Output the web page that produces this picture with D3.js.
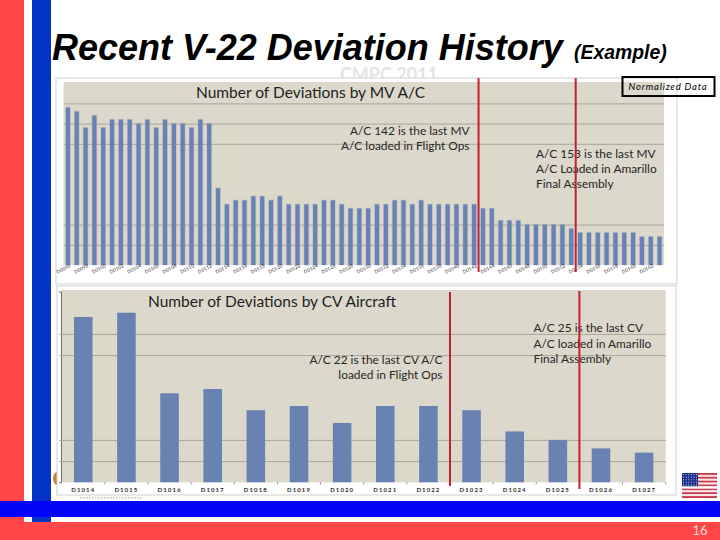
<!DOCTYPE html>
<html>
<head>
<meta charset="utf-8">
<script src="https://cdn.jsdelivr.net/npm/d3@7"></script>
<style>
  html, body { margin: 0; padding: 0; background: #fff; }
  svg { display: block; }
  text { font-family: Lato, sans-serif; }
  .slide-title { font-family: "Liberation Sans", Arial, sans-serif; font-weight: bold; font-style: italic; fill: #000; }
</style>
</head>
<body>
<div id="chart-container"></div>
<script>
  // MV aircraft numbers and normalized deviation counts
  var mvAircraft = [96, 97, 98, 99, 100, 101, 102, 103, 104, 105, 106, 107, 108, 109, 110, 111, 112,
      113, 114, 115, 116, 117, 118, 119, 120, 121, 122, 123, 124, 125, 126, 127, 128, 129, 130,
      131, 132, 133, 134, 135, 136, 137, 138, 139, 140, 141, 142, 143, 144, 145, 146, 147,
      148, 149, 150, 151, 152, 153, 154, 155, 156, 157, 158, 159, 160, 161, 162, 163];
  var mvDeviations = [39, 38, 34, 37, 34, 36, 36, 36, 35, 36, 34, 36, 35, 35, 34, 36, 35,
      19, 15, 16, 16, 17, 17, 16, 17, 15, 15, 15, 15, 16, 16, 15, 14, 14, 14,
      15, 15, 16, 16, 15, 16, 15, 15, 15, 15, 15, 15, 14, 14, 11, 11, 11,
      10, 10, 10, 10, 10, 9, 8, 8, 8, 8, 8, 8, 8, 7, 7, 7];
  var mvGridTicks = [5, 10, 30, 35, 40];
  var mvLastFlightOps = 142;
  var mvLastAmarillo = 153;

  // CV aircraft
  var cvAircraft = [14, 15, 16, 17, 18, 19, 20, 21, 22, 23, 24, 25, 26, 27];
  var cvDeviations = [39, 40, 21, 22, 17, 18, 14, 18, 18, 17, 12, 10, 8, 7];
  var cvGridTicks = [5, 10, 30, 35];
  var cvLastFlightOps = 22;
  var cvLastAmarillo = 25;

  var width = 720;
  var height = 540;
  var barColor = '#6882b2';
  var plotColor = '#dcd8cc';
  var gridColor = '#a8a598';
  var redLine = '#c0222f';

  var svg = d3.select('#chart-container')
      .append('svg')
      .attr('width', width)
      .attr('height', height);

  // Slide frame
  svg.append('rect').attr('x', 0).attr('y', 0).attr('width', 24).attr('height', height).attr('fill', '#ff4747');
  svg.append('rect').attr('x', 32).attr('y', 0).attr('width', 19).attr('height', 522).attr('fill', '#0433c8');
  svg.append('rect').attr('x', 0).attr('y', 522).attr('width', width).attr('height', 18).attr('fill', '#ff4747');

  // Ghost of the heading hidden behind the chart picture
  svg.append('text')
      .attr('x', 389).attr('y', 81)
      .attr('text-anchor', 'middle')
      .attr('font-size', 18)
      .attr('font-weight', 'bold')
      .attr('fill', '#e4e4e4')
      .text('CMPC 2011');

  svg.append('text')
      .attr('class', 'slide-title')
      .attr('x', 52).attr('y', 60)
      .attr('font-size', 36)
      .text('Recent V-22 Deviation History');

  svg.append('text')
      .attr('class', 'slide-title')
      .attr('x', 574).attr('y', 59)
      .attr('font-size', 19.4)
      .text('(Example)');

  // Orange sliver, mostly covered by the lower card
  svg.append('ellipse').attr('cx', 57).attr('cy', 478.5).attr('rx', 4).attr('ry', 6.5).attr('fill', '#c9823f');

  // Draw one panel: white card, beige plot, gridlines, bars, axis, notes, red lines
  function drawPanel(p) {
      var g = svg.append('g');

      g.append('rect')
          .attr('x', p.card[0]).attr('y', p.card[1])
          .attr('width', p.card[2] - p.card[0]).attr('height', p.card[3] - p.card[1])
          .attr('fill', '#fff')
          .attr('stroke', '#cfcfcb')
          .attr('stroke-width', 1);

      g.append('rect')
          .attr('x', p.left).attr('y', p.top)
          .attr('width', p.right - p.left).attr('height', p.bottom - p.top)
          .attr('fill', plotColor);

      var xScale = d3.scaleBand()
          .domain(p.aircraft)
          .range([p.left + p.inset, p.right])
          .paddingInner(p.padding)
          .paddingOuter(p.padding / 2);

      var yScale = d3.scaleLinear()
          .domain([0, p.yMax])
          .range([p.bottom, p.bottom - p.yMax * p.unit]);

      // gridlines
      var yAxis = g.append('g')
          .attr('transform', 'translate(' + p.left + ',0)')
          .call(d3.axisLeft(yScale).tickValues(p.ticks).tickSize(p.yTickOut).tickFormat(''));
      yAxis.select('.domain').attr('stroke', p.axisLine ? '#6d6d68' : 'none');
      yAxis.selectAll('.tick line').attr('stroke', gridColor);
      yAxis.selectAll('.tick').append('line')
          .attr('x1', 0).attr('x2', p.right - p.left)
          .attr('stroke', gridColor)
          .attr('stroke-width', 1);

      g.selectAll('rect.bar')
          .data(p.aircraft)
          .enter()
          .append('rect')
          .attr('class', 'bar')
          .attr('x', function(d) { return xScale(d); })
          .attr('y', function(d, i) { return yScale(p.values[i]); })
          .attr('width', xScale.bandwidth())
          .attr('height', function(d, i) { return p.bottom - yScale(p.values[i]); })
          .attr('fill', barColor)
          .attr('stroke', barColor)
          .attr('stroke-opacity', p.blur)
          .attr('stroke-width', 1.5);

      var xAxis = d3.axisBottom(xScale)
          .tickSize(0)
          .tickValues(p.aircraft.filter(function(d, i) { return i % p.labelEvery === 0; }))
          .tickFormat(p.label);
      var axisG = g.append('g')
          .attr('transform', 'translate(0,' + p.bottom + ')')
          .call(xAxis);
      axisG.select('.domain').attr('stroke', 'none');
      axisG.selectAll('text')
          .attr('font-family', p.labelFont)
          .attr('font-size', p.labelSize)
          .attr('font-weight', p.labelWeight)
          .attr('letter-spacing', p.labelSpacing)
          .attr('fill', '#2c2c2c');
      if (p.labelAngle) {
          axisG.selectAll('text')
              .attr('text-anchor', 'end')
              .attr('dy', 0)
              .attr('y', 3)
              .attr('x', 2)
              .attr('transform', 'rotate(' + p.labelAngle + ')');
      } else {
          axisG.selectAll('text').attr('y', 5);
          // little tick marks between the categories
          axisG.selectAll('.tick').append('line')
              .attr('x1', xScale.step() / 2).attr('x2', xScale.step() / 2)
              .attr('y1', 0).attr('y2', 2)
              .attr('stroke', '#8a8a84');
      }

      // chart heading
      g.append('text')
          .attr('x', p.titleX).attr('y', p.titleY)
          .attr('font-size', p.titleSize)
          .attr('fill', '#1e1e1e')
          .text(p.title);

      // notes
      p.notes.forEach(function(n) {
          g.append('text')
              .attr('x', n.x).attr('y', n.y)
              .attr('text-anchor', n.anchor)
              .attr('font-size', p.noteSize)
              .attr('fill', '#26261f')
              .text(n.text);
      });

      // red markers sit between the last aircraft and the next one, over the notes
      p.markers.forEach(function(m) {
          var step = xScale.step();
          var mx = xScale(m.after) + xScale.bandwidth() / 2 + step / 2;
          g.append('line')
              .attr('x1', mx).attr('x2', mx)
              .attr('y1', m.y1).attr('y2', m.y2)
              .attr('stroke', redLine)
              .attr('stroke-width', 2);
      });
  }

  drawPanel({
      card: [56, 78, 677, 284],
      left: 63.5, right: 664, top: 82, bottom: 265, inset: 0,
      aircraft: mvAircraft, values: mvDeviations, ticks: mvGridTicks,
      yMax: 45, unit: 4.04, padding: 0.52, blur: 0.22,
      yTickOut: 0, axisLine: false,
      labelEvery: 2, labelAngle: -27, labelSize: 4.6, labelWeight: 'normal', labelSpacing: 0.2,
      labelFont: '"Liberation Sans", sans-serif',
      label: function(d) { return 'D0' + (d < 100 ? '0' : '') + d; },
      title: 'Number of Deviations by MV A/C',
      titleX: 196, titleY: 98, titleSize: 15.5,
      noteSize: 11.9,
      notes: [
          { x: 469.5, y: 135, anchor: 'end', text: 'A/C 142 is the last MV' },
          { x: 469.5, y: 150, anchor: 'end', text: 'A/C loaded in Flight Ops' },
          { x: 536, y: 158, anchor: 'start', text: 'A/C 153 is the last MV' },
          { x: 536, y: 173, anchor: 'start', text: 'A/C Loaded in Amarillo' },
          { x: 536, y: 188, anchor: 'start', text: 'Final Assembly' }
      ],
      markers: [
          { after: mvLastFlightOps, y1: 78, y2: 272 },
          { after: mvLastAmarillo, y1: 78, y2: 272 }
      ]
  });

  drawPanel({
      card: [57, 286, 676, 495],
      left: 61, right: 665.7, top: 290, bottom: 482.3, inset: 0.7,
      aircraft: cvAircraft, values: cvDeviations, ticks: cvGridTicks,
      yMax: 45, unit: 4.24, padding: 0.57, blur: 0,
      yTickOut: 2, axisLine: true,
      labelEvery: 1, labelAngle: 0, labelSize: 6, labelWeight: 'bold', labelSpacing: 1.1,
      labelFont: '"DejaVu Sans", sans-serif',
      label: function(d) { return 'D10' + d; },
      title: 'Number of Deviations by CV Aircraft',
      titleX: 148, titleY: 307, titleSize: 15.5,
      noteSize: 11.9,
      notes: [
          { x: 442.5, y: 364, anchor: 'end', text: 'A/C 22 is the last CV A/C' },
          { x: 442.5, y: 379, anchor: 'end', text: 'loaded in Flight Ops' },
          { x: 533.5, y: 332, anchor: 'start', text: 'A/C 25 is the last CV' },
          { x: 533.5, y: 348, anchor: 'start', text: 'A/C loaded in Amarillo' },
          { x: 533.5, y: 363, anchor: 'start', text: 'Final Assembly' }
      ],
      markers: [
          { after: cvLastFlightOps, y1: 292, y2: 486 },
          { after: cvLastAmarillo, y1: 291, y2: 489 }
      ]
  });

  // Unreadable footnote under the lower card
  svg.append('line')
      .attr('x1', 80).attr('x2', 142).attr('y1', 498).attr('y2', 498)
      .attr('stroke', '#9a9a9a').attr('stroke-dasharray', '1.5 1.5');

  // "Normalized Data" box
  svg.append('rect')
      .attr('x', 622.5).attr('y', 77).attr('width', 92).attr('height', 19)
      .attr('fill', 'none').attr('stroke', '#000').attr('stroke-width', 2);
  svg.append('text')
      .attr('x', 668).attr('y', 90)
      .attr('text-anchor', 'middle')
      .attr('font-family', '"Liberation Sans", sans-serif')
      .attr('font-style', 'italic')
      .attr('font-size', 9.5)
      .attr('letter-spacing', 0.8)
      .attr('fill', '#000')
      .text('Normalized Data');

  // Flag in the lower right corner
  var flag = svg.append('g').attr('transform', 'translate(682,473)');
  flag.selectAll('rect.stripe')
      .data(d3.range(13))
      .enter()
      .append('rect')
      .attr('class', 'stripe')
      .attr('x', 0)
      .attr('y', function(d) { return d * 25 / 13; })
      .attr('width', 35)
      .attr('height', 25 / 13)
      .attr('fill', function(d) { return d % 2 === 0 ? '#c8394a' : '#f6e4e4'; });
  flag.append('rect').attr('x', 0).attr('y', 0).attr('width', 16).attr('height', 13.5).attr('fill', '#1c2f8c');
  flag.selectAll('circle')
      .data(d3.range(30))
      .enter()
      .append('circle')
      .attr('cx', function(d) { return 1.5 + (d % 6) * 2.6; })
      .attr('cy', function(d) { return 1.5 + Math.floor(d / 6) * 2.6; })
      .attr('r', 0.55)
      .attr('fill', '#dfe3f5');
  flag.append('rect').attr('x', 0).attr('y', 13.5).attr('width', 35).attr('height', 2).attr('fill', '#fff');

  // Horizontal blue band goes over everything at the bottom
  svg.append('rect').attr('x', 0).attr('y', 501).attr('width', width).attr('height', 16).attr('fill', '#0404f8');

  svg.append('text')
      .attr('x', 700).attr('y', 535)
      .attr('text-anchor', 'middle')
      .attr('font-family', '"Liberation Sans", sans-serif')
      .attr('font-size', 13)
      .attr('fill', '#ffd9d9')
      .text('16');
</script>
</body>
</html>
